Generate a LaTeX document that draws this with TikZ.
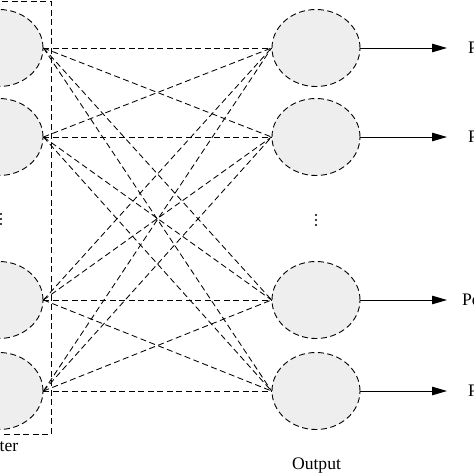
\documentclass[tikz,border=0pt]{standalone}
\usepackage{fontspec}
\setmainfont{Liberation Serif}
\usetikzlibrary{arrows.meta,shapes.geometric}
\definecolor{nodefill}{RGB}{238,238,238}
\begin{document}
\begin{tikzpicture}[x=1pt,y=-1pt,
  neuron/.style={ellipse,draw,dashed,dash pattern=on 6pt off 3.5pt,line width=0.9pt,fill=nodefill,minimum width=88pt,minimum height=77pt,inner sep=0pt},
  conn/.style={dashed,dash pattern=on 6pt off 3.5pt,line width=0.85pt},
  outarrow/.style={line width=1pt,-{Triangle[length=15pt,width=8.5pt]}},
  lab/.style={font=\fontsize{17.6}{20}\selectfont,inner sep=0pt},
  dotmark/.style={circle,fill=black,inner sep=0pt,minimum size=2.4pt}]
\useasboundingbox (0,0) rectangle (474,474);
\clip (0,0) rectangle (474,474);
% layer box
\draw[conn] (-10,1.5) rectangle (51,434);
% input neurons
\node[neuron] (in1) at (-1,48) {};
\node[neuron] (in2) at (-1,137) {};
\node[neuron] (in3) at (-1,300) {};
\node[neuron] (in4) at (-1,391) {};
% output neurons
\node[neuron] (out1) at (316,48) {};
\node[neuron] (out2) at (316,137) {};
\node[neuron] (out3) at (316,300) {};
\node[neuron] (out4) at (316,391) {};
% connections
\foreach \i in {1,...,4}{
  \foreach \j in {1,...,4}{
    \draw[conn] (in\i.east) -- (out\j.west);
  }
}
% output arrows and labels
\foreach \j/\t/\x in {1/P/468,2/P/468,3/Po/462,4/P/468}{
  \coordinate (tip\j) at (447,0 |- out\j.east);
  \draw[outarrow] (out\j.east) -- (tip\j);
  \node[lab,anchor=west] (lab\j) at (\x,0 |- out\j.east) {\t};
}
% dots
\node[dotmark] (od1) at (316,215) {};
\node[dotmark] (od2) at (316,220) {};
\node[dotmark] (od3) at (316,225) {};
\node[dotmark] (id1) at (1,214) {};
\node[dotmark] (id2) at (1,219) {};
\node[dotmark] (id3) at (1,224) {};
% captions
\node[lab,anchor=base east] (incap) at (18.5,451) {ter};
\node[lab,anchor=base] (outcap) at (316.5,469) {Output};
\end{tikzpicture}
\end{document}
